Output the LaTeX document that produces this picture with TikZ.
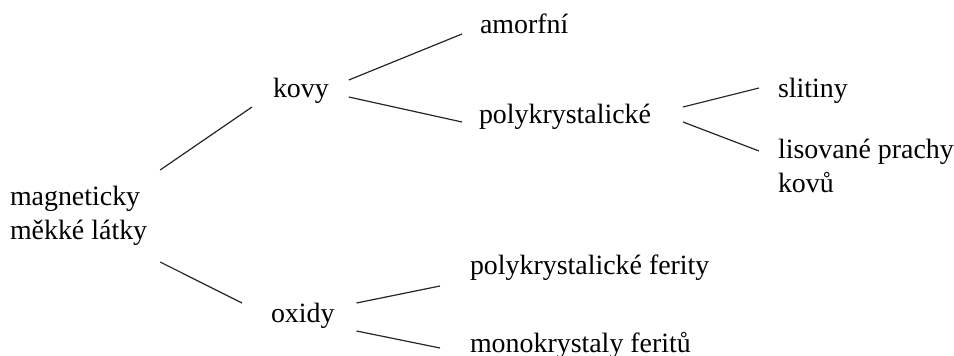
\documentclass[tikz,border=0pt]{standalone}
\usepackage{fontspec}
\setmainfont{Liberation Serif}
\usetikzlibrary{calc}

\begin{document}
\begin{tikzpicture}[x=1pt,y=-1pt,
  term/.style={anchor=base west,inner sep=0pt,outer sep=0pt,align=left,
    font=\fontsize{27.9}{34}\selectfont},
  branch/.style={draw=black!85,line width=1.2pt}]
\useasboundingbox (0,0) rectangle (954,356);

% terms of the classification (base anchor = baseline of the last line)
\node[term] (root) at (10,239) {magneticky\\měkké látky};
\node[term] (kovy) at (273,97) {kovy};
\node[term] (oxidy) at (271,322) {oxidy};
\node[term] (amorf) at (480,33) {amorfní};
\node[term] (poly) at (479,123) {polykrystalické};
\node[term] (slit) at (778,97) {slitiny};
\node[term] (lis) at (778,192) {lisované prachy\\kovů};
\node[term] (ferity) at (470,274) {polykrystalické ferity};
\node[term] (mono) at (470,352) {monokrystaly feritů};

% branches
\draw[branch] ($(root.base east)+(13,-69)$) -- ($(kovy.base west)+(-21,10)$);
\draw[branch] ($(root.base east)+(13,23)$) -- ($(oxidy.base west)+(-29,-19)$);
\draw[branch] ($(kovy.base east)+(20,-17)$) -- ($(amorf.base west)+(-18,1)$);
\draw[branch] ($(kovy.base east)+(20,0)$) -- ($(poly.base west)+(-17,-1)$);
\draw[branch] ($(oxidy.base east)+(22,-19)$) -- ($(ferity.base west)+(-30,12)$);
\draw[branch] ($(oxidy.base east)+(22,9)$) -- ($(mono.base west)+(-30,-4)$);
\draw[branch] ($(poly.base east)+(32,-16)$) -- ($(slit.base west)+(-19,-9)$);
\draw[branch] ($(poly.base east)+(32,-1)$) -- ($(lis.base west)+(-19,-41)$);
\end{tikzpicture}
\end{document}
